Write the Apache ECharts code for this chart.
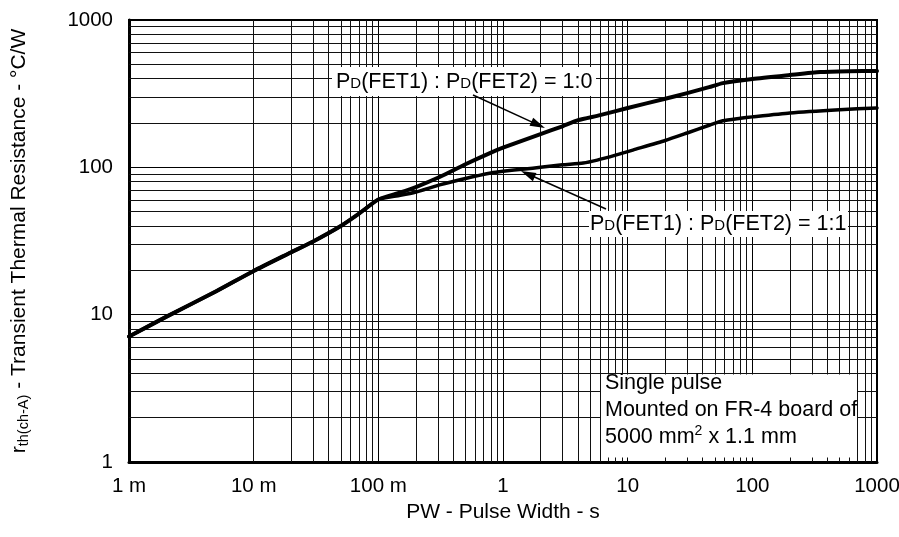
<!DOCTYPE html>
<html><head><meta charset="utf-8">
<script src="https://cdn.jsdelivr.net/npm/echarts@6/dist/echarts.min.js"></script>
<style>html,body{margin:0;padding:0;background:#fff}#c{width:899px;height:537px}</style>
</head><body><div id="c"></div>
<script>
// ---- data ----
const xTickLabels = ['1 m', '10 m', '100 m', '1', '10', '100', '1000'];
const yTickLabels = ['1', '10', '100', '1000'];
// P_D(FET1):P_D(FET2) = 1:0
const pw10  = [0.001, 0.002, 0.005, 0.01, 0.02, 0.03, 0.05, 0.07, 0.1, 0.15, 0.2, 0.31, 0.5, 0.785, 1, 2, 3, 4, 6, 10, 20, 30, 45, 58, 100, 200, 350, 600, 1000];
const rth10 = [7.1, 9.7, 14.4, 19.8, 26.5, 31.4, 40, 48.5, 60.5, 67.5, 73.5, 86, 105, 125, 136, 168, 190, 209, 226, 253, 292, 319, 350, 373, 398, 423, 443, 449, 451];
// P_D(FET1):P_D(FET2) = 1:1
const pw11  = [0.001, 0.002, 0.005, 0.01, 0.02, 0.03, 0.05, 0.07, 0.1, 0.15, 0.2, 0.31, 0.5, 0.8, 1, 1.5, 2, 3, 4.4, 5.7, 8, 11, 20, 30, 45, 58, 80, 100, 200, 500, 1000];
const rth11 = [7.1, 9.7, 14.4, 19.8, 26.5, 31.4, 40, 48.5, 60.5, 64.5, 68, 76, 84, 91.5, 94, 97.5, 100, 104, 107, 112, 121, 131, 152, 171, 193, 207, 215, 220, 234, 246, 253];
const xDecades = [-3, -2, -1, 0, 1, 2];
const yDecades = [0, 1, 2];
const minorMult = [2, 3, 4, 5, 6, 7, 8, 9];

const FONT = 'Liberation Sans, Arial, Helvetica, sans-serif';
const minorX = [], minorY = [];
xDecades.forEach(k => minorMult.forEach(m => minorX.push({xAxis: m * Math.pow(10, k)})));
yDecades.forEach(k => minorMult.forEach(m => minorY.push({yAxis: m * Math.pow(10, k)})));

function arrow(x1, y1, x2, y2) {
  const dx = x2 - x1, dy = y2 - y1, L = Math.hypot(dx, dy);
  const ux = dx / L, uy = dy / L, hl = 15, hw = 4.5;
  const bx = x2 - ux * hl, by = y2 - uy * hl;
  return [
    {type: 'line', z: 100, shape: {x1: x1, y1: y1, x2: bx + ux * 2, y2: by + uy * 2}, style: {stroke: '#000', lineWidth: 1.5}},
    {type: 'polygon', z: 100, shape: {points: [[x2, y2], [bx - uy * hw, by + ux * hw], [bx + uy * hw, by - ux * hw]]}, style: {fill: '#000'}}
  ];
}
const pdRich = {
  a: {fontSize: 21.5, fontFamily: FONT, color: '#000', lineHeight: 24},
  s: {fontSize: 15, fontFamily: FONT, color: '#000', lineHeight: 18, verticalAlign: 'bottom', padding: [0, 0, 2.5, 0]}
};
function pdText(ratio) {
  return '{a|P}{s|D}{a|(FET1) : P}{s|D}{a|(FET2) = ' + ratio + '}';
}

const chart = echarts.init(document.getElementById('c'), null, {renderer: 'canvas'});
chart.setOption({
  animation: false,
  backgroundColor: '#fff',
  grid: {left: 129, top: 20, width: 748, height: 442, show: true, borderColor: '#000', borderWidth: 2,
         backgroundColor: 'transparent', containLabel: false, outerBoundsMode: 'none'},
  xAxis: {
    type: 'log', logBase: 10, min: 0.001, max: 1000,
    axisLine: {show: true, onZero: false, lineStyle: {color: '#000', width: 3}},
    axisTick: {show: false},
    axisLabel: {color: '#000', fontSize: 20.5, fontFamily: FONT, margin: 14, hideOverlap: false,
      formatter: v => xTickLabels[Math.round(Math.log10(v)) + 3]},
    splitLine: {show: true, lineStyle: {color: '#000', width: 1}},
    name: 'PW - Pulse Width - s', nameLocation: 'middle', nameGap: 37,
    nameTextStyle: {color: '#000', fontSize: 21, fontFamily: FONT}
  },
  yAxis: {
    type: 'log', logBase: 10, min: 1, max: 1000,
    axisLine: {show: true, onZero: false, lineStyle: {color: '#000', width: 3}},
    axisTick: {show: false},
    axisLabel: {color: '#000', fontSize: 20.5, fontFamily: FONT, margin: 16,
      formatter: v => yTickLabels[Math.round(Math.log10(v))]},
    splitLine: {show: true, lineStyle: {color: '#000', width: 1}},
    name: '{a|r}{s|th(ch-A)}{a| - Transient Thermal Resistance - °C/W}',
    nameLocation: 'middle', nameRotate: 90, nameGap: 98,
    nameTextStyle: {rich: {
      a: {fontSize: 21, fontFamily: FONT, color: '#000', lineHeight: 24},
      s: {fontSize: 14.5, fontFamily: FONT, color: '#000', lineHeight: 22, verticalAlign: 'bottom'}
    }}
  },
  series: [
    {
      type: 'line', name: 'grid', data: [], silent: true, z: 1,
      markLine: {
        silent: true, z: 1, symbol: 'none', animation: false,
        label: {show: false}, emphasis: {disabled: true},
        lineStyle: {color: '#111', width: 1, type: 'solid'},
        data: minorX.concat(minorY)
      }
    },
    {
      type: 'line', name: '1:0', z: 5, silent: true,
      data: pw10.map((x, i) => [x, rth10[i]]),
      showSymbol: false, smooth: 0.2,
      lineStyle: {color: '#000', width: 4, join: 'round', cap: 'round'}
    },
    {
      type: 'line', name: '1:1', z: 5, silent: true,
      data: pw11.map((x, i) => [x, rth11[i]]),
      showSymbol: false, smooth: 0.2,
      lineStyle: {color: '#000', width: 3.5, join: 'round', cap: 'round'}
    }
  ],
  graphic: [
    {type: 'rect', z: 90, shape: {x: 332, y: 67, width: 264, height: 29}, style: {fill: '#fff'}},
    {type: 'text', z: 100, x: 336, y: 82, style: {text: pdText('1:0'), rich: pdRich, verticalAlign: 'middle', align: 'left'}},
    {type: 'rect', z: 90, shape: {x: 589, y: 211, width: 259, height: 26}, style: {fill: '#fff'}},
    {type: 'text', z: 100, x: 590, y: 224, style: {text: pdText('1:1'), rich: pdRich, verticalAlign: 'middle', align: 'left'}},
    {type: 'rect', z: 90, shape: {x: 601, y: 374.5, width: 256, height: 83}, style: {fill: '#fff'}},
    {type: 'text', z: 100, x: 605, y: 383, style: {text: 'Single pulse', font: '21.5px ' + FONT, fill: '#000', verticalAlign: 'middle'}},
    {type: 'text', z: 100, x: 605, y: 410, style: {text: 'Mounted on FR-4 board of', font: '21.5px ' + FONT, fill: '#000', verticalAlign: 'middle'}},
    {type: 'text', z: 100, x: 605, y: 437, style: {
      text: '{a|5000 mm}{p|2}{a| x 1.1 mm}', verticalAlign: 'middle',
      rich: {a: {fontSize: 21.5, fontFamily: FONT, color: '#000', lineHeight: 26},
             p: {fontSize: 14, fontFamily: FONT, color: '#000', lineHeight: 18, verticalAlign: 'top'}}}}
  ].concat(arrow(473, 95, 545, 128), arrow(606, 209, 521, 171))
});
</script></body></html>
